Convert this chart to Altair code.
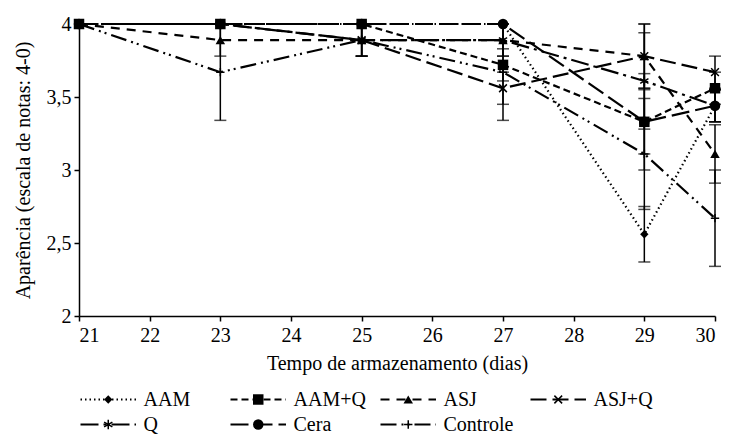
import altair as alt
import pandas as pd

dias = [21, 23, 25, 27, 29, 30]
series = ["AAM", "AAM+Q", "ASJ", "ASJ+Q", "Q", "Cera", "Controle"]
valores = {
    "AAM":      [4, 4, 4, 4, 2.56, 3.44],
    "AAM+Q":    [4, 4, 4, 3.72, 3.33, 3.56],
    "ASJ":      [4, 3.89, 3.89, 3.89, 3.78, 3.11],
    "ASJ+Q":    [4, 4, 3.89, 3.56, 3.78, 3.67],
    "Q":        [4, 4, 3.89, 3.89, 3.61, 3.44],
    "Cera":     [4, 4, 4, 4, 3.33, 3.44],
    "Controle": [4, 3.67, 3.89, 3.67, 3.11, 2.67],
}
erros = {
    "AAM":      [0, 0, 0, 0, 0.19, 0.11],
    "AAM+Q":    [0, 0, 0, 0.11, 0.22, 0.11],
    "ASJ":      [0, 0.11, 0.11, 0.11, 0.22, 0.2],
    "ASJ+Q":    [0, 0, 0.11, 0.11, 0.22, 0.11],
    "Q":        [0, 0, 0.11, 0.11, 0.33, 0.11],
    "Cera":     [0, 0, 0, 0, 0.33, 0.11],
    "Controle": [0, 0.33, 0.11, 0.33, 0.38, 0.33],
}
x_ticks = list(range(21, 31))
y_ticks = [2, 2.5, 3, 3.5, 4]

FONT = "Liberation Serif"
FS = 20
styles = {
    "AAM":      dict(dash=[1.5, 3], shape="diamond", filled=True, size=70),
    "AAM+Q":    dict(dash=[7, 4], shape="square", filled=True, size=110),
    "ASJ":      dict(dash=[9, 7], shape="triangle-up", filled=True, size=90),
    "ASJ+Q":    dict(dash=[16, 6], shape="M-1,-1L1,1M-1,1L1,-1", filled=False, size=60),
    "Q":        dict(dash=[18, 5, 3, 5], shape="M0,-1L0,1M-0.87,-0.5L0.87,0.5M-0.87,0.5L0.87,-0.5", filled=False, size=90),
    "Cera":     dict(dash=[18, 6], shape="circle", filled=True, size=110),
    "Controle": dict(dash=[16, 5, 2, 4, 2, 5], shape="M-1,0L1,0M0,-1L0,1", filled=False, size=70),
}

rows = []
for s in series:
    for d, v, e in zip(dias, valores[s], erros[s]):
        rows.append(dict(dia=d, serie=s, valor=v, err=e, lo=v - e, hi=v + e))
df = pd.DataFrame(rows)

xenc = alt.X("dia:Q", scale=alt.Scale(domain=[21, 30], nice=False, zero=False),
             axis=alt.Axis(values=x_ticks, title="Tempo de armazenamento (dias)", grid=False,
                           labelFontSize=FS, titleFontSize=FS, tickSize=5, labelPadding=4, titlePadding=8))
yscale = alt.Scale(domain=[2, 4], nice=False, zero=False)
yenc = alt.Y("valor:Q", scale=yscale,
             axis=alt.Axis(values=y_ticks, labelExpr="replace(toString(datum.value), '.', ',')",
                           title="Aparência (escala de notas: 4-0)", grid=False,
                           labelFontSize=FS, titleFontSize=FS, tickSize=5, labelPadding=3, titlePadding=13))

base = alt.Chart(df)
errdf = base.transform_filter("datum.err > 0")
layers = [
    errdf.mark_rule(color="black", strokeWidth=1.5).encode(
        x=xenc, y=alt.Y("lo:Q", scale=yscale), y2="hi:Q"),
    errdf.mark_tick(color="black", orient="horizontal", size=12, thickness=1.5).encode(
        x=xenc, y=alt.Y("lo:Q", scale=yscale)),
    errdf.mark_tick(color="black", orient="horizontal", size=12, thickness=1.5).encode(
        x=xenc, y=alt.Y("hi:Q", scale=yscale)),
]
for s in series:
    st = styles[s]
    sub = base.transform_filter(alt.datum.serie == s)
    layers.append(sub.mark_line(color="black", strokeWidth=2.2, strokeDash=st["dash"]).encode(x=xenc, y=yenc))
for s in series:
    st = styles[s]
    sub = base.transform_filter(alt.datum.serie == s)
    layers.append(sub.mark_point(color="black", shape=st["shape"], filled=st["filled"], size=st["size"],
                                 strokeWidth=1.5, opacity=1).encode(x=xenc, y=yenc))

main = alt.layer(*layers).properties(width=636, height=292)

# legend panel
cols = [0, 1, 2, 3, 0, 1, 2]
lrows = [0, 0, 0, 0, 1, 1, 1]
ldf = pd.DataFrame(dict(serie=series, col=cols, row=lrows))
lx = alt.Scale(domain=[0, 4.24], nice=False, zero=False)
ly = alt.Scale(domain=[-0.5, 1.5], reverse=True, nice=False, zero=False)
lbase = alt.Chart(ldf).transform_calculate(
    x0="datum.col + 0.01", x1="datum.col + 0.38", xm="datum.col + 0.195", xt="datum.col + 0.43")
llayers = []
for s in series:
    st = styles[s]
    sub = lbase.transform_filter(alt.datum.serie == s)
    llayers.append(sub.mark_rule(color="black", strokeWidth=2.2, strokeDash=st["dash"]).encode(
        x=alt.X("x0:Q", scale=lx, axis=None), x2="x1:Q", y=alt.Y("row:Q", scale=ly, axis=None)))
    llayers.append(sub.mark_point(color="black", shape=st["shape"], filled=st["filled"], size=st["size"],
                                  strokeWidth=1.5, opacity=1).encode(
        x=alt.X("xm:Q", scale=lx, axis=None), y=alt.Y("row:Q", scale=ly, axis=None)))
llayers.append(lbase.mark_text(align="left", baseline="middle", font=FONT, fontSize=FS, color="black").encode(
    x=alt.X("xt:Q", scale=lx, axis=None), y=alt.Y("row:Q", scale=ly, axis=None), text="serie:N"))
legend = alt.layer(*llayers).properties(width=636, height=50)

chart = alt.vconcat(main, legend, spacing=14).resolve_scale(x="independent", y="independent").properties(
    padding={"left": 12, "top": 14, "right": 5, "bottom": 0}
).configure(font=FONT).configure_text(font=FONT).configure_view(stroke=None).configure_axis(
    labelFont=FONT, titleFont=FONT, labelColor="black", titleColor="black",
    titleFontWeight="normal", domainColor="black", tickColor="black", domainWidth=1.5, tickWidth=1.5
)

chart.save("out.html", embed_options={"renderer": "svg", "actions": False})
